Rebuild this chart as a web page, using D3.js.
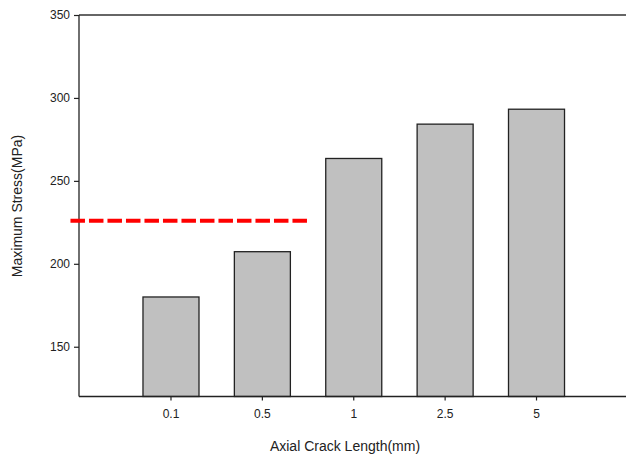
<!DOCTYPE html>
<html><head><meta charset="utf-8">
<script src="https://cdn.jsdelivr.net/npm/d3@7"></script>
<style>body{margin:0;background:#fff}svg{display:block}</style>
</head><body>
<svg id="c" width="626" height="459"></svg>
<script>
const categories = ["0.1", "0.5", "1", "2.5", "5"];
const maxStress = [180, 207.3, 263.5, 284.2, 293.2];
const yTicks = [150, 200, 250, 300, 350];
const thresholdValue = 226;
const thresholdSpan = [-1.1, 1.49]; // in category-index units
const xTitle = "Axial Crack Length(mm)";
const yTitle = "Maximum Stress(MPa)";

const svg = d3.select("#c");
const L = 79, T = 15, B = 396.5, R = 626;
const y = d3.scaleLinear().domain([120, 350]).range([B, T]);
const x = d3.scaleBand().domain(categories).range([125.3, 582.2]).paddingInner(0.387).paddingOuter(0.1935);
const xi = d3.scaleLinear().domain([0, 4]).range([x("0.1") + x.bandwidth()/2, x("5") + x.bandwidth()/2]);
const font = "Liberation Sans, Arial, sans-serif";

// bars
svg.selectAll("rect.bar").data(categories).enter().append("rect")
  .attr("x", d => x(d)).attr("width", x.bandwidth())
  .attr("y", (d,i) => y(maxStress[i])).attr("height", (d,i) => B - y(maxStress[i]))
  .attr("fill", "#c0c0c0").attr("stroke", "#222").attr("stroke-width", 1.3);

// frame top line
svg.append("line").attr("x1", L).attr("x2", R).attr("y1", T).attr("y2", T).attr("stroke", "#333").attr("stroke-width", 1.3);

// y axis
const ya = svg.append("g").attr("transform", `translate(${L},0)`)
  .call(d3.axisLeft(y).tickValues(yTicks).tickSize(5).tickPadding(4));
ya.select(".domain").attr("stroke", "#222").attr("stroke-width", 1.3).attr("d", `M0,${T}V${B}`);
ya.selectAll(".tick line").attr("stroke", "#222").attr("stroke-width", 1.2);
ya.selectAll("text").attr("font-family", font).attr("font-size", 12).attr("fill", "#222");

// x axis
const xa = svg.append("g").attr("transform", `translate(0,${B})`)
  .call(d3.axisBottom(x).tickSize(4).tickPadding(9));
xa.select(".domain").attr("stroke", "#222").attr("stroke-width", 1.3).attr("d", `M${L},0H${R}`);
xa.selectAll(".tick line").attr("stroke", "#222").attr("stroke-width", 1.2);
xa.selectAll("text").attr("font-family", font).attr("font-size", 12).attr("fill", "#222");

// threshold line
svg.append("line")
  .attr("x1", xi(thresholdSpan[0])).attr("x2", xi(thresholdSpan[1]))
  .attr("y1", y(thresholdValue)).attr("y2", y(thresholdValue))
  .attr("stroke", "#ff0000").attr("stroke-width", 4).attr("stroke-dasharray", "14.5,4");

// titles
svg.append("text").attr("x", 345).attr("y", 451).attr("text-anchor", "middle")
  .attr("font-family", font).attr("font-size", 14).attr("fill", "#222").text(xTitle);
svg.append("text").attr("transform", "translate(22,206) rotate(-90)").attr("text-anchor", "middle")
  .attr("font-family", font).attr("font-size", 14).attr("fill", "#222").text(yTitle);
</script>
</body></html>
